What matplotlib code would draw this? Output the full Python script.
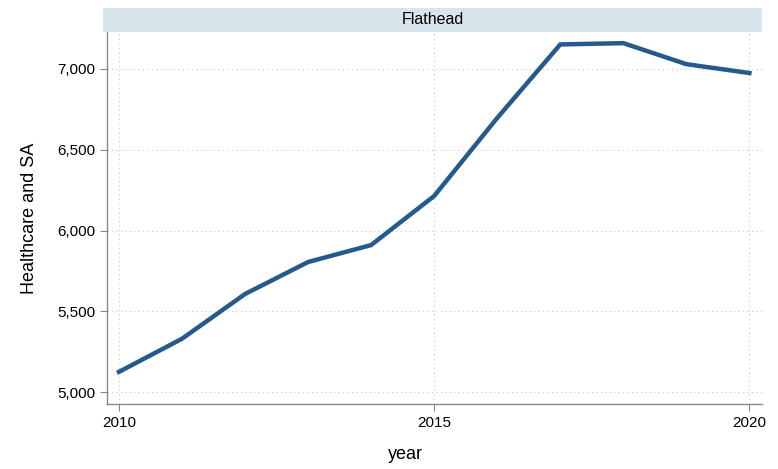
import matplotlib
matplotlib.use("Agg")
import matplotlib.pyplot as plt
from matplotlib.patches import Rectangle
from matplotlib.ticker import FuncFormatter

plt.rcParams["font.family"] = ["Liberation Sans", "DejaVu Sans"]

years = [2010, 2011, 2012, 2013, 2014, 2015, 2016, 2017, 2018, 2019, 2020]
healthcare_sa = [5125, 5330, 5607, 5805, 5910, 6214, 6697, 7152, 7160, 7030, 6975]

panel_title = "Flathead"
x_ticks = [2010, 2015, 2020]
y_ticks = [5000, 5500, 6000, 6500, 7000]

fig = plt.figure(figsize=(7.78, 4.69), dpi=100)
ax = fig.add_axes([107 / 778, 1 - 404 / 469, (762 - 107) / 778, (404 - 32) / 469])

ax.plot(years, healthcare_sa, color="#245a8c", linewidth=3.2, solid_joinstyle="miter")

ax.set_xlim(2009.81, 2020.2)
ax.set_ylim(4926, 7229)
ax.set_xticks(x_ticks)
ax.set_yticks(y_ticks)
ax.yaxis.set_major_formatter(FuncFormatter(lambda v, p: f"{int(v):,}"))

ax.grid(True, color="#c8c8c8", linestyle=(0, (1, 3)), linewidth=0.8)
for s in ["top", "right"]:
    ax.spines[s].set_visible(False)
for s in ["left", "bottom"]:
    ax.spines[s].set_color("#888888")
    ax.spines[s].set_linewidth(1.0)

ax.tick_params(axis="both", colors="#888888", labelcolor="black", labelsize=11, length=5)

ax.set_xlabel("year", fontsize=13)
ax.xaxis.set_label_coords(0.455, -0.113)
ax.set_ylabel("Healthcare and SA", fontsize=13, labelpad=14)

# panel header strip
header = Rectangle((103 / 778, 1 - 32 / 469), (762 - 103) / 778, 24 / 469,
                   transform=fig.transFigure, facecolor="#d9e5ec", edgecolor="none")
fig.patches.append(header)
fig.text((103 + 762) / 2 / 778, 1 - 20 / 469, panel_title, ha="center", va="center", fontsize=11.5)

fig.savefig("out.png", dpi=100)
